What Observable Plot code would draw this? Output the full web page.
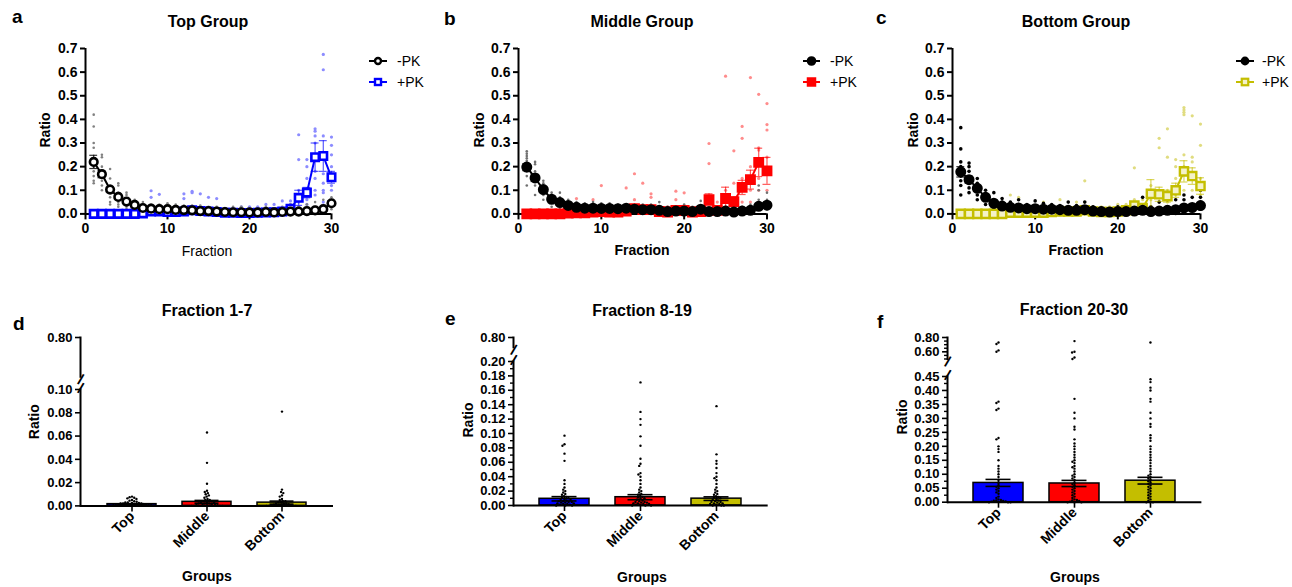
<!DOCTYPE html>
<html><head><meta charset="utf-8">
<script src="https://cdn.jsdelivr.net/npm/d3@7"></script>
<script src="https://cdn.jsdelivr.net/npm/@observablehq/plot@0.6"></script>
<style>
body{margin:0;background:#fff;}
#root{position:relative;width:1292px;height:587px;overflow:hidden;background:#fff;}
#root > div{position:absolute;}
#root svg{overflow:visible;}
</style></head>
<body><div id="root"></div>
<script>
// ---------------- DATA ----------------
const fractions = d3.range(1, 31);

// Panel a: Top Group
const aMinusMean = [0.220,0.168,0.103,0.072,0.052,0.038,0.025,0.022,0.020,0.020,0.017,0.016,0.015,0.012,0.012,0.010,0.008,0.007,0.007,0.006,0.006,0.008,0.006,0.008,0.010,0.010,0.012,0.015,0.020,0.045];
const aMinusSem  = [0.028,0.015,0.010,0.008,0.006,0.005,0.004,0.004,0.004,0.004,0.003,0.003,0.003,0.003,0.003,0.002,0.002,0.002,0.002,0.002,0.002,0.002,0.002,0.002,0.003,0.003,0.003,0.004,0.005,0.010];
const aPlusMean  = [0,0,0,0,0,0,0.002,0.010,0.010,0.008,0.008,0.010,0.015,0.012,0.010,0.008,0.005,0.005,0.004,0.004,0.005,0.006,0.007,0.010,0.022,0.068,0.090,0.240,0.245,0.155];
const aPlusSem   = [0,0,0,0,0,0,0.001,0.006,0.006,0.004,0.004,0.006,0.008,0.007,0.006,0.005,0.003,0.003,0.002,0.002,0.003,0.003,0.004,0.005,0.008,0.032,0.022,0.060,0.065,0.025];
const aMinusPts = [[0.42,0.37,0.30,0.28,0.20,0.18,0.16,0.14,0.13],[0.25,0.24,0.20,0.18,0.16,0.14,0.12,0.10],[0.19,0.15,0.12,0.09,0.07,0.05,0.04],[0.13,0.12,0.09,0.07,0.05,0.04,0.03],[0.09,0.08,0.06,0.04,0.03,0.02],[0.06,0.05,0.04,0.03,0.02],[0.05,0.03,0.02,0.01],[0.04,0.03,0.02,0.01],[0.04,0.03,0.02,0.01],[0.045,0.03,0.02,0.01],[0.04,0.03,0.02],[0.035,0.02,0.01],[0.035,0.02,0.01],[0.035,0.02,0.01],[0.03,0.02,0.01],[0.03,0.02,0.01],[0.025,0.01,0.005],[0.03,0.01,0.005],[0.03,0.01,0.005],[0.02,0.01,0.005],[0.02,0.01,0.005],[0.03,0.01,0.005],[0.02,0.01,0.005],[0.03,0.01,0.005],[0.04,0.02,0.01],[0.03,0.02,0.01],[0.04,0.02,0.01],[0.05,0.03,0.01],[0.06,0.03,0.01],[0.07,0.05,0.03,0.02]];
const aPlusPts = [[0],[0],[0],[0],[0],[0],[0.02,0],[0.098,0.07,0.02],[0.083,0.02],[0.03,0.01],[0.03,0.01],[0.085,0.065,0.02],[0.095,0.09,0.03],[0.085,0.03],[0.07,0.02],[0.065,0.02],[0.02,0.01],[0.02,0.01],[0.03,0.01],[0.03,0.01],[0.03,0.01],[0.04,0.01],[0.04,0.01],[0.055,0.02],[0.055,0.04,0.02],[0.335,0.23,0.10,0.07,0.05,0.03],[0.23,0.20,0.15,0.10,0.06,0.04],[0.36,0.35,0.33,0.30,0.25,0.18,0.15,0.10,0.08],[0.675,0.61,0.33,0.26,0.17,0.13,0.10,0.09,0.05],[0.325,0.29,0.25,0.20,0.16,0.12,0.10]];

// Panel b: Middle Group
const bMinusMean = [0.198,0.152,0.103,0.062,0.048,0.036,0.028,0.024,0.024,0.023,0.023,0.022,0.024,0.020,0.018,0.018,0.015,0.010,0.012,0.012,0.010,0.020,0.010,0.010,0.012,0.008,0.012,0.015,0.032,0.037];
const bMinusSem  = [0.015,0.015,0.010,0.008,0.007,0.005,0.004,0.004,0.004,0.004,0.004,0.004,0.004,0.003,0.003,0.003,0.003,0.002,0.002,0.002,0.002,0.004,0.003,0.002,0.003,0.002,0.003,0.004,0.008,0.008];
const bPlusMean  = [0,0,0,0,0,0.003,0.005,0.005,0.008,0.010,0.008,0.008,0.012,0.022,0.018,0.018,0.010,0.008,0.015,0.015,0.008,0.010,0.060,0.015,0.065,0.052,0.112,0.145,0.218,0.182];
const bPlusSem   = [0,0,0,0,0,0.002,0.004,0.003,0.004,0.008,0.004,0.004,0.006,0.012,0.010,0.008,0.004,0.004,0.008,0.008,0.004,0.004,0.025,0.006,0.048,0.020,0.030,0.040,0.060,0.057];
const bMinusPts = [[0.265,0.255,0.245,0.235,0.225,0.215,0.20,0.18,0.16,0.12],[0.22,0.21,0.18,0.15,0.12,0.08],[0.14,0.13,0.12,0.10,0.08,0.06],[0.09,0.07,0.05,0.03],[0.09,0.07,0.04,0.02],[0.06,0.04,0.02],[0.05,0.03,0.02],[0.045,0.03,0.01],[0.05,0.03,0.01],[0.045,0.03,0.01],[0.045,0.03,0.01],[0.04,0.03,0.01],[0.04,0.03,0.01],[0.04,0.02,0.01],[0.04,0.02,0.01],[0.04,0.02,0.01],[0.05,0.02,0.01],[0.03,0.01],[0.03,0.01],[0.04,0.02],[0.03,0.01],[0.055,0.03,0.01],[0.07,0.02,0.01],[0.03,0.01],[0.03,0.01],[0.02,0.01],[0.03,0.01],[0.04,0.02],[0.12,0.10,0.06,0.04,0.02],[0.09,0.06,0.04,0.02]];
const bPlusPts = [[0],[0],[0],[0],[0],[0.02],[0.065,0.02],[0.04,0.01],[0.06,0.02],[0.12,0.02],[0.04,0.01],[0.03,0.01],[0.11,0.02],[0.17,0.06,0.02],[0.13,0.03],[0.085,0.07,0.02],[0.03,0.01],[0.03,0.01],[0.096,0.06,0.02],[0.089,0.02],[0.02,0.01],[0.03,0.01],[0.298,0.213,0.05,0.02],[0.05,0.02],[0.583,0.10,0.03],[0.267,0.13,0.04],[0.37,0.32,0.15,0.10,0.05],[0.577,0.20,0.15,0.10,0.05],[0.506,0.28,0.27,0.15,0.10,0.05],[0.467,0.378,0.355,0.24,0.18,0.10,0.05]];

// Panel c: Bottom Group
const cMinusMean = [0.178,0.145,0.108,0.070,0.045,0.033,0.028,0.025,0.022,0.022,0.020,0.020,0.018,0.015,0.015,0.018,0.012,0.010,0.008,0.010,0.010,0.012,0.015,0.010,0.012,0.015,0.018,0.025,0.027,0.035];
const cMinusSem  = [0.022,0.015,0.012,0.008,0.006,0.005,0.004,0.004,0.004,0.004,0.003,0.003,0.003,0.003,0.003,0.003,0.002,0.002,0.002,0.002,0.002,0.002,0.004,0.002,0.003,0.003,0.004,0.005,0.006,0.008];
const cPlusMean  = [0,0,0,0,0,0,0.005,0.005,0.005,0.005,0.005,0.008,0.010,0.010,0.010,0.015,0.010,0.008,0.008,0.010,0.015,0.035,0.025,0.085,0.083,0.075,0.100,0.180,0.160,0.118];
const cPlusSem   = [0,0,0,0,0,0,0.003,0.003,0.003,0.003,0.003,0.004,0.004,0.004,0.004,0.008,0.004,0.003,0.003,0.004,0.005,0.012,0.008,0.060,0.030,0.025,0.030,0.045,0.035,0.035];
const cMinusPts = [[0.365,0.275,0.22,0.20,0.16,0.14,0.12,0.08],[0.215,0.20,0.18,0.14,0.11,0.09],[0.15,0.13,0.10,0.08,0.06],[0.10,0.08,0.06,0.04],[0.09,0.06,0.03,0.02],[0.065,0.05,0.02],[0.05,0.03,0.01],[0.06,0.04,0.01],[0.04,0.02],[0.055,0.03,0.01],[0.045,0.02],[0.04,0.02],[0.035,0.01],[0.05,0.02],[0.035,0.01],[0.05,0.02],[0.03,0.01],[0.025,0.01],[0.02,0.01],[0.03,0.01],[0.03,0.01],[0.035,0.01],[0.07,0.02],[0.03,0.01],[0.05,0.02],[0.06,0.03],[0.06,0.03],[0.08,0.06,0.03],[0.07,0.04,0.02],[0.10,0.07,0.05,0.02]];
const cPlusPts = [[0],[0],[0],[0],[0],[0],[0.08,0.02],[0.07,0.02],[0.03,0.01],[0.03,0.01],[0.05,0.01],[0.03,0.01],[0.06,0.02],[0.03,0.01],[0.05,0.02],[0.14,0.05,0.02],[0.03,0.01],[0.03,0.01],[0.03,0.01],[0.04,0.01],[0.04,0.02],[0.195,0.06,0.02],[0.06,0.02],[0.12,0.06,0.03],[0.32,0.28,0.10,0.05],[0.36,0.24,0.10,0.05],[0.23,0.20,0.15,0.08],[0.45,0.44,0.43,0.42,0.25,0.20,0.10],[0.415,0.24,0.22,0.15,0.10],[0.38,0.29,0.15,0.08]];

// Bottom row
const groups = ["Top", "Middle", "Bottom"];
const groupColors = ["#0000ff", "#ff0000", "#c4be00"];

const dMean = [0.0015, 0.0035, 0.0028];
const dSem  = [0.0004, 0.0012, 0.0013];
const dPts = [
  [0.008,0.0075,0.007,0.0065,0.006,0.005,0.0045,0.004,0.0035,0.003,0.003,0.0025,0.0025,0.002,0.002,0.002,0.0015,0.0015,0.0015,0.001,0.001,0.001,0.001,0.0005,0.0005,0.0005,0.0005,0,0,0,0,0,0],
  [0.063,0.037,0.019,0.013,0.012,0.011,0.010,0.009,0.008,0.007,0.006,0.005,0.005,0.004,0.004,0.003,0.003,0.003,0.002,0.002,0.002,0.0015,0.001,0.001,0.001,0.0005,0.0005,0,0,0,0,0],
  [0.081,0.014,0.012,0.011,0.009,0.008,0.006,0.005,0.004,0.004,0.003,0.003,0.002,0.002,0.002,0.0015,0.001,0.001,0.001,0.0005,0.0005,0,0,0,0,0,0]
];
const eMean = [0.0093, 0.0115, 0.0095];
const eSem  = [0.0030, 0.0035, 0.0025];
const ePts = [
  [0.097,0.085,0.083,0.072,0.062,0.035,0.030,0.025,0.022,0.020,0.018,0.016,0.015,0.013,0.012,0.011,0.010,0.009,0.008,0.008,0.007,0.006,0.006,0.005,0.005,0.004,0.004,0.003,0.003,0.002,0.002,0.001,0.001,0,0,0],
  [0.171,0.130,0.120,0.112,0.096,0.083,0.065,0.058,0.055,0.045,0.043,0.040,0.035,0.030,0.025,0.022,0.020,0.018,0.016,0.015,0.013,0.012,0.011,0.010,0.009,0.008,0.007,0.006,0.005,0.005,0.004,0.004,0.003,0.003,0.002,0.002,0.001,0.001,0,0,0],
  [0.138,0.071,0.062,0.058,0.052,0.045,0.040,0.038,0.035,0.030,0.025,0.022,0.020,0.018,0.016,0.015,0.013,0.012,0.011,0.010,0.009,0.008,0.007,0.006,0.005,0.005,0.004,0.003,0.003,0.002,0.002,0.001,0,0,0]
];
const fMean = [0.069, 0.067, 0.077];
const fSem  = [0.0125, 0.011, 0.012];
const fPts = [
  [0.73,0.71,0.62,0.60,0.36,0.355,0.335,0.33,0.23,0.225,0.20,0.19,0.18,0.15,0.13,0.12,0.11,0.10,0.09,0.08,0.07,0.06,0.055,0.05,0.045,0.04,0.035,0.03,0.02,0.015,0.01,0.008,0.006,0.005,0.004,0.003,0.002,0.001,0,0,0],
  [0.75,0.60,0.59,0.52,0.50,0.37,0.32,0.30,0.27,0.26,0.225,0.21,0.20,0.19,0.18,0.17,0.16,0.15,0.145,0.14,0.13,0.125,0.12,0.11,0.10,0.095,0.09,0.085,0.08,0.07,0.065,0.06,0.055,0.05,0.045,0.04,0.035,0.03,0.025,0.02,0.015,0.01,0.008,0.006,0.004,0.002,0,0,0],
  [0.73,0.44,0.43,0.41,0.40,0.37,0.36,0.32,0.30,0.28,0.27,0.24,0.23,0.22,0.20,0.19,0.18,0.17,0.16,0.15,0.14,0.13,0.12,0.11,0.10,0.095,0.09,0.085,0.08,0.075,0.07,0.065,0.06,0.055,0.05,0.045,0.04,0.035,0.03,0.025,0.02,0.015,0.01,0.005,0,0,0]
];

// tick values
const topXTicks = [0, 10, 20, 30];
const topYTicks = [0, 0.1, 0.2, 0.3, 0.4, 0.5, 0.6, 0.7];
const dLowerTicks = [0, 0.02, 0.04, 0.06, 0.08, 0.10];
const dUpperTicks = [0.80];
const eLowerTicks = [0, 0.02, 0.04, 0.06, 0.08, 0.10, 0.12, 0.14, 0.16, 0.18, 0.20];
const eLowerMinor = [0.01, 0.03, 0.05, 0.07, 0.09, 0.11, 0.13, 0.15, 0.17, 0.19];
const eUpperTicks = [0.80];
const fLowerTicks = [0, 0.05, 0.10, 0.15, 0.20, 0.25, 0.30, 0.35, 0.40, 0.45];
const fLowerMinor = [0.025, 0.075, 0.125, 0.175, 0.225, 0.275, 0.325, 0.375, 0.425];
const fUpperTicks = [0.60, 0.80];
const fUpperMinor = [0.50, 0.55, 0.65, 0.70, 0.75];

// ---------------- DRAWING ----------------
const FONT = "'Liberation Sans', Arial, Helvetica, sans-serif";
const root = document.getElementById("root");
function put(node, left, top) {
  const div = document.createElement("div");
  div.style.left = left + "px";
  div.style.top = top + "px";
  div.appendChild(node);
  root.appendChild(div);
}
function baseStyle(size) {
  return {fontFamily: FONT, fontSize: size + "px", fontWeight: "bold", color: "#000", background: "none", overflow: "visible"};
}

function topPanel(cfg) {
  const mL = 50, mR = 14, mT = 14, mB = 30;
  const fw = cfg.right - cfg.left, fh = cfg.bottom - cfg.top;
  const toRows = (mean, sem) => fractions.map((f, i) => ({f, m: mean[i], s: sem[i]}));
  const toPts = (lists) => lists.flatMap((vals, i) => vals.map(v => ({f: i + 1, v})));
  const mRows = toRows(cfg.minusMean, cfg.minusSem);
  const pRows = toRows(cfg.plusMean, cfg.plusSem);
  const cap = 0.48;
  const err = (rows, color, op) => {
    const r = rows.filter(d => d.s > 0);
    return [
      Plot.ruleX(r, {x: "f", y1: d => d.m - d.s, y2: d => d.m + d.s, stroke: color, strokeOpacity: op, strokeWidth: 1.2}),
      Plot.ruleY(r, {y: d => d.m + d.s, x1: d => d.f - cap, x2: d => d.f + cap, stroke: color, strokeOpacity: op, strokeWidth: 1.2}),
      Plot.ruleY(r, {y: d => d.m - d.s, x1: d => d.f - cap, x2: d => d.f + cap, stroke: color, strokeOpacity: op, strokeWidth: 1.2})
    ];
  };
  const chart = Plot.plot({
    width: fw + mL + mR, height: fh + mT + mB,
    marginLeft: mL, marginRight: mR, marginTop: mT, marginBottom: mB,
    style: baseStyle(14),
    x: {domain: [0, 30]},
    y: {domain: [0, 0.7]},
    marks: [
      Plot.dot(toPts(cfg.plusPts), {x: "f", y: "v", r: cfg.plusPtR, fill: cfg.plusLight}),
      Plot.dot(toPts(cfg.minusPts), {x: "f", y: "v", r: cfg.minusPtR, fill: cfg.minusLight}),
      Plot.ruleY([0], {strokeWidth: 2}),
      Plot.ruleX([0], {strokeWidth: 2}),
      Plot.axisX({ticks: topXTicks, tickSize: 6, tickPadding: 3, strokeWidth: 2, label: null}),
      Plot.axisY({ticks: topYTicks, tickSize: 5, tickPadding: 3, strokeWidth: 2, tickFormat: ".1f", label: null}),
      Plot.line(pRows, {x: "f", y: "m", stroke: cfg.color, strokeWidth: 2}),
      ...err(pRows, cfg.color, 0.65),
      Plot.dot(pRows, {x: "f", y: "m", symbol: "square", r: cfg.sqR, fill: cfg.plusFill, stroke: cfg.color, strokeWidth: cfg.sw}),
      Plot.line(mRows, {x: "f", y: "m", stroke: "black", strokeWidth: 2}),
      ...err(mRows, "black", 0.8),
      Plot.dot(mRows, {x: "f", y: "m", r: cfg.cirR, fill: cfg.minusFill, stroke: "black", strokeWidth: cfg.sw})
    ]
  });
  put(chart, cfg.left - mL, cfg.top - mT);
}

function barSegment(cfg, seg) {
  const mL = 60, mR = 10, mT = 10, mB = seg.lower ? 75 : 10;
  const fw = cfg.right - cfg.left, fh = seg.bottom - seg.top;
  const rows = groups.map((g, i) => ({g, m: cfg.mean[i], s: cfg.sem[i], c: groupColors[i]}));
  const pts = groups.flatMap((g, i) => cfg.pts[i].map(v => ({g, v})))
    .filter(d => seg.lower ? d.v <= seg.domain[1] : d.v > cfg.lowerMax);
  const band = {domain: groups, paddingInner: 0.34, paddingOuter: 0.335};
  const common = {
    width: fw + mL + mR, height: fh + mT + mB,
    marginLeft: mL, marginRight: mR, marginTop: mT, marginBottom: mB,
    style: baseStyle(13)
  };
  const marks = [];
  if (seg.lower) {
    marks.push(
      Plot.barY(rows, {x: "g", y: "m", fill: d => d.c, stroke: "black", strokeWidth: 1.5}),
      Plot.ruleX(rows, {x: "g", y1: d => d.m - d.s, y2: d => d.m + d.s, strokeWidth: 1.6}),
      Plot.tickY(rows, {x: "g", y: d => d.m + d.s, insetLeft: 12.5, insetRight: 12.5, strokeWidth: 1.6}),
      Plot.tickY(rows, {x: "g", y: d => d.m - d.s, insetLeft: 12.5, insetRight: 12.5, strokeWidth: 1.6}),
      Plot.ruleY([0], {strokeWidth: 2}),
      Plot.axisX({tickRotate: -45, tickSize: 6, tickPadding: 2, strokeWidth: 1.6, label: null, fontSize: 14}),
      Plot.text(["/"], {frameAnchor: "top-left", dy: -1, fontSize: 15, fontWeight: "bold", rotate: 20, lineAnchor: "middle", textAnchor: "middle"})
    );
  } else {
    marks.push(
      Plot.text(["/"], {frameAnchor: "bottom-left", dy: 3, fontSize: 15, fontWeight: "bold", rotate: 20, lineAnchor: "middle", textAnchor: "middle"})
    );
  }
  marks.push(Plot.frame({anchor: "left", strokeWidth: 2}));
  marks.push(Plot.axisY({ticks: seg.ticks, tickSize: 5, tickPadding: 3, strokeWidth: 1.6, tickFormat: ".2f", label: null}));
  if (seg.minor) marks.push(Plot.axisY({ticks: seg.minor, tickSize: 3, strokeWidth: 1.4, tickFormat: () => "", label: null}));
  const xScale = seg.lower ? band : {...band, axis: null};
  const base = Plot.plot({...common, x: xScale, y: {domain: seg.domain}, marks});
  put(base, cfg.left - mL, seg.top - mT);
  const dots = Plot.plot({
    ...common,
    fx: {...band, axis: null},
    y: {domain: seg.domain, axis: null},
    marks: [Plot.dot(pts, Plot.dodgeX({anchor: "middle", padding: 0.1}, {fx: "g", y: "v", r: 1.2, fill: "black"}))]
  });
  put(dots, cfg.left - mL, seg.top - mT);
}

// --- top row
topPanel({left: 85, right: 331, top: 48.3, bottom: 213.7, color: "#0000ff",
  minusMean: aMinusMean, minusSem: aMinusSem, plusMean: aPlusMean, plusSem: aPlusSem,
  minusPts: aMinusPts, plusPts: aPlusPts, minusLight: "#808080", plusLight: "#8c8cff",
  minusPtR: 1.3, plusPtR: 1.6, minusFill: "white", plusFill: "white", cirR: 3.8, sqR: 4.2, sw: 2.6});
topPanel({left: 517.5, right: 766, top: 48.3, bottom: 213.7, color: "#ff0000",
  minusMean: bMinusMean, minusSem: bMinusSem, plusMean: bPlusMean, plusSem: bPlusSem,
  minusPts: bMinusPts, plusPts: bPlusPts, minusLight: "#707070", plusLight: "#ff8c8c",
  minusPtR: 1.3, plusPtR: 1.6, minusFill: "black", plusFill: "#ff0000", cirR: 4.5, sqR: 5, sw: 2});
topPanel({left: 952, right: 1200, top: 48.3, bottom: 213.7, color: "#c4be00",
  minusMean: cMinusMean, minusSem: cMinusSem, plusMean: cPlusMean, plusSem: cPlusSem,
  minusPts: cMinusPts, plusPts: cPlusPts, minusLight: "#000000", plusLight: "#e0dc80",
  minusPtR: 1.8, plusPtR: 1.6, minusFill: "black", plusFill: "#f4f2c8", cirR: 4.3, sqR: 4.6, sw: 2.4});

// --- bottom row
const dCfg = {left: 80, right: 333, mean: dMean, sem: dSem, pts: dPts, lowerMax: 0.10};
barSegment(dCfg, {lower: true, top: 389.3, bottom: 505.7, domain: [0, 0.10], ticks: dLowerTicks});
barSegment(dCfg, {lower: false, top: 336.7, bottom: 376, domain: [0.6, 0.8], ticks: dUpperTicks});
const eCfg = {left: 513.3, right: 768, mean: eMean, sem: eSem, pts: ePts, lowerMax: 0.20};
barSegment(eCfg, {lower: true, top: 361, bottom: 505, domain: [0, 0.20], ticks: eLowerTicks, minor: eLowerMinor});
barSegment(eCfg, {lower: false, top: 336.7, bottom: 346.5, domain: [0.76, 0.8], ticks: eUpperTicks});
const fCfg = {left: 947.3, right: 1201.7, mean: fMean, sem: fSem, pts: fPts, lowerMax: 0.45};
barSegment(fCfg, {lower: true, top: 376, bottom: 501.7, domain: [0, 0.45], ticks: fLowerTicks, minor: fLowerMinor});
barSegment(fCfg, {lower: false, top: 336.7, bottom: 358.2, domain: [0.5, 0.8], ticks: fUpperTicks, minor: fUpperMinor});

// --- text overlay: titles, letters, axis labels, legends
const NS = "http://www.w3.org/2000/svg";
const ov = document.createElementNS(NS, "svg");
ov.setAttribute("width", 1292); ov.setAttribute("height", 587);
ov.style.fontFamily = FONT;
function txt(s, x, y, size, weight, anchor, rot) {
  const t = document.createElementNS(NS, "text");
  t.textContent = s;
  t.setAttribute("font-size", size);
  t.setAttribute("font-weight", weight);
  t.setAttribute("text-anchor", anchor || "start");
  t.setAttribute("transform", `translate(${x},${y})` + (rot ? ` rotate(${rot})` : ""));
  ov.appendChild(t);
}
function el(tag, attrs) {
  const e = document.createElementNS(NS, tag);
  for (const k in attrs) e.setAttribute(k, attrs[k]);
  ov.appendChild(e);
}
// letters
txt("a", 12, 23, 19, "bold"); txt("b", 444, 25, 19, "bold"); txt("c", 876, 24, 19, "bold");
txt("d", 13, 330, 19, "bold"); txt("e", 445, 325, 19, "bold"); txt("f", 877, 328, 19, "bold");
// titles
txt("Top Group", 208, 27, 16, "bold", "middle");
txt("Middle Group", 642, 27, 16, "bold", "middle");
txt("Bottom Group", 1076, 27, 16, "bold", "middle");
txt("Fraction 1-7", 207, 316, 16, "bold", "middle");
txt("Fraction 8-19", 642, 316, 16, "bold", "middle");
txt("Fraction 20-30", 1074, 315, 16, "bold", "middle");
// axis labels
txt("Ratio", 50, 130, 14, "bold", "middle", -90);
txt("Ratio", 484, 130, 14, "bold", "middle", -90);
txt("Ratio", 917.5, 130, 14, "bold", "middle", -90);
txt("Fraction", 207, 256, 14, "normal", "middle");
txt("Fraction", 642, 255, 14, "bold", "middle");
txt("Fraction", 1076, 255, 14, "bold", "middle");
txt("Ratio", 38.5, 421.7, 14, "bold", "middle", -90);
txt("Ratio", 472.7, 420, 14, "bold", "middle", -90);
txt("Ratio", 906.7, 417, 14, "bold", "middle", -90);
txt("Groups", 207, 581, 14, "bold", "middle");
txt("Groups", 642, 582, 14, "bold", "middle");
txt("Groups", 1075, 582, 14, "bold", "middle");
// legends
function legend(x1, x2, tx, color, cFill, sFill, cr, sq, sw) {
  const xm = (x1 + x2) / 2;
  el("line", {x1, x2, y1: 61, y2: 61, stroke: "black", "stroke-width": 2});
  el("circle", {cx: xm, cy: 61, r: cr, fill: cFill, stroke: "black", "stroke-width": sw});
  txt("-PK", tx, 66, 14, "normal");
  el("line", {x1, x2, y1: 82, y2: 82, stroke: color, "stroke-width": 2});
  el("rect", {x: xm - sq / 2, y: 82 - sq / 2, width: sq, height: sq, fill: sFill, stroke: color, "stroke-width": sw});
  txt("+PK", tx, 87, 14, "normal");
}
legend(369, 387, 397, "#0000ff", "white", "white", 3, 6, 2.4);
legend(803, 820, 830, "#ff0000", "black", "#ff0000", 3.8, 7.5, 2);
legend(1236, 1254, 1262, "#c4be00", "black", "#f4f2c8", 3.3, 6.5, 2.2);
const ovDiv = document.createElement("div");
ovDiv.style.left = "0px"; ovDiv.style.top = "0px"; ovDiv.style.pointerEvents = "none";
ovDiv.appendChild(ov);
root.appendChild(ovDiv);
</script>
</body></html>
